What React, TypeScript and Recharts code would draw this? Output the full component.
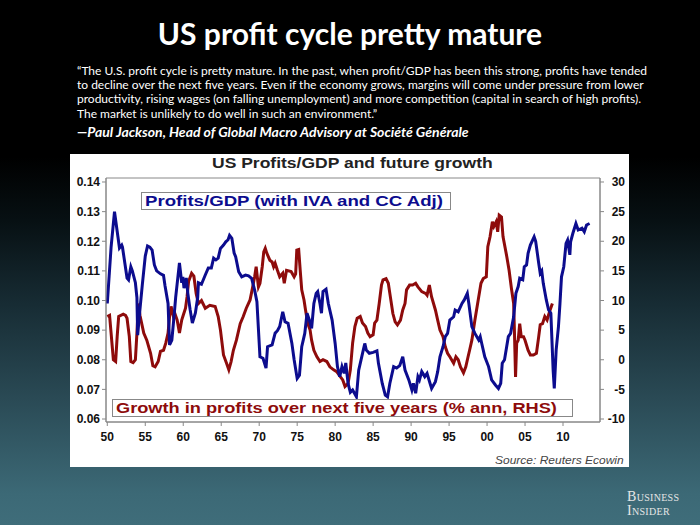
import React from 'react';
import { LineChart, Line, XAxis, YAxis, ReferenceArea } from 'recharts';

const profitYears = [
  1950.0, 1950.5, 1950.95, 1951.4, 1951.6, 1951.9, 1952.0, 1952.6, 1952.8, 1953.1, 1953.3, 1953.7, 1953.9, 1954.0,
  1954.3, 1954.6, 1955.0, 1955.3, 1955.6, 1955.9, 1956.2, 1956.5, 1957.0, 1957.4, 1957.6, 1958.0, 1958.2, 1958.5,
  1958.8, 1959.0, 1959.5, 1959.8, 1959.95, 1960.1, 1960.4, 1960.6, 1960.9, 1961.2, 1961.6, 1961.9, 1962.0, 1962.4,
  1962.9, 1963.3, 1963.7, 1964.0, 1964.3, 1964.6, 1964.9, 1965.3, 1965.6, 1965.9, 1966.1, 1966.4, 1966.7, 1966.9,
  1967.3, 1967.7, 1968.2, 1968.6, 1969.0, 1969.4, 1969.7, 1970.1, 1970.5, 1970.9, 1971.1, 1971.7, 1972.1, 1972.4,
  1972.7, 1973.1, 1973.4, 1973.8, 1974.3, 1974.6, 1975.0, 1975.3, 1975.6, 1976.0, 1976.3, 1976.6, 1976.9, 1977.2,
  1977.5, 1977.7, 1978.0, 1978.2, 1978.4, 1978.8, 1979.1, 1979.6, 1980.0, 1980.3, 1980.6, 1980.9, 1981.2, 1981.4,
  1981.7, 1982.0, 1982.3, 1982.8, 1983.1, 1983.5, 1983.9, 1984.1, 1984.5, 1985.0, 1985.5, 1985.7, 1986.2, 1986.6,
  1986.9, 1987.2, 1987.7, 1988.1, 1988.5, 1988.9, 1989.2, 1989.7, 1990.1, 1990.3, 1990.6, 1990.9, 1991.1, 1991.4,
  1991.8, 1992.1, 1992.5, 1992.7, 1993.2, 1993.5, 1993.8, 1994.2, 1994.5, 1994.8, 1995.1, 1995.6, 1995.8, 1996.2,
  1996.7, 1997.0, 1997.4, 1997.6, 1998.0, 1998.4, 1998.9, 1999.1, 1999.3, 1999.7, 2000.2, 2000.6, 2001.1, 2001.5,
  2001.8, 2002.0, 2002.3, 2002.8, 2003.1, 2003.5, 2003.8, 2004.1, 2004.3, 2004.7, 2004.9, 2005.2, 2005.4, 2005.7,
  2006.2, 2006.4, 2006.8, 2007.0, 2007.2, 2007.4, 2007.8, 2008.1, 2008.4, 2008.7, 2008.85, 2009.1, 2009.4, 2009.6,
  2009.8, 2010.1, 2010.4, 2010.6, 2010.9, 2011.0, 2011.3, 2011.7, 2012.0, 2012.5, 2012.8, 2013.1, 2013.5,
];
const profitValues = [
  0.099, 0.118, 0.13, 0.1215, 0.1177, 0.1187, 0.118, 0.1076, 0.107, 0.1114, 0.11, 0.106, 0.101, 0.0883,
  0.097, 0.105, 0.115, 0.1184, 0.118, 0.117, 0.112, 0.11, 0.109, 0.1085, 0.105, 0.099, 0.085, 0.0866,
  0.095, 0.101, 0.1127, 0.106, 0.108, 0.1042, 0.1076, 0.1025, 0.097, 0.0924, 0.0958, 0.101, 0.106, 0.1055,
  0.1086, 0.111, 0.111, 0.1143, 0.1137, 0.1143, 0.1176, 0.1187, 0.1198, 0.1205, 0.122, 0.121, 0.116, 0.1148,
  0.1097, 0.108, 0.1086, 0.1083, 0.1075, 0.1035, 0.0996, 0.081, 0.0805, 0.0772, 0.0844, 0.085, 0.089, 0.0898,
  0.0912, 0.0962, 0.0928, 0.0923, 0.0856, 0.08, 0.0737, 0.0748, 0.0844, 0.0889, 0.0957, 0.0934, 0.0906, 0.099,
  0.1024, 0.103, 0.099, 0.0957, 0.103, 0.1038, 0.099, 0.0934, 0.0855, 0.0777, 0.0743, 0.0777, 0.0754, 0.0789,
  0.072, 0.069, 0.0698, 0.0675, 0.0765, 0.081, 0.0855, 0.0833, 0.0822, 0.0825, 0.083, 0.0788, 0.072, 0.0681,
  0.0675, 0.072, 0.0777, 0.0772, 0.078, 0.081, 0.0765, 0.0732, 0.0698, 0.072, 0.0687, 0.0743, 0.0732, 0.076,
  0.0743, 0.0754, 0.072, 0.0703, 0.0726, 0.076, 0.081, 0.0844, 0.0878, 0.0889, 0.0934, 0.0945, 0.0968, 0.0962,
  0.099, 0.1002, 0.1024, 0.099, 0.0912, 0.0889, 0.0867, 0.0878, 0.0855, 0.081, 0.0777, 0.0732, 0.0715, 0.0703,
  0.072, 0.0788, 0.08, 0.0878, 0.0889, 0.0945, 0.1024, 0.1047, 0.1075, 0.107, 0.1114, 0.112, 0.1159, 0.1187,
  0.1215, 0.12, 0.1126, 0.1092, 0.11, 0.1058, 0.1002, 0.0968, 0.0957, 0.0765, 0.0703, 0.0833, 0.0912, 0.099,
  0.108, 0.1114, 0.1193, 0.1204, 0.1154, 0.1198, 0.1227, 0.126, 0.1238, 0.1244, 0.1232, 0.1255, 0.126,
];

const growthYears = [
  1950.0, 1950.3, 1950.8, 1951.1, 1951.3, 1951.5, 1952.1, 1952.4, 1952.6, 1952.9, 1953.1, 1953.4, 1953.7, 1953.9,
  1954.1, 1954.3, 1954.8, 1955.2, 1955.7, 1956.0, 1956.3, 1956.7, 1957.0, 1957.4, 1957.7, 1958.0, 1958.2, 1958.4,
  1958.7, 1958.9, 1959.2, 1959.5, 1959.8, 1960.0, 1960.3, 1960.5, 1960.7, 1961.1, 1961.4, 1961.7, 1962.0, 1962.4,
  1962.9, 1963.5, 1964.2, 1964.6, 1964.9, 1965.3, 1965.7, 1966.0, 1966.3, 1966.6, 1967.0, 1967.5, 1967.9, 1968.3,
  1968.8, 1969.1, 1969.4, 1969.6, 1969.9, 1970.1, 1970.4, 1970.6, 1970.8, 1971.0, 1971.4, 1971.7, 1971.9, 1972.1,
  1972.4, 1972.7, 1973.1, 1973.3, 1973.6, 1974.2, 1974.6, 1974.8, 1974.95, 1975.2, 1975.4, 1975.6, 1975.9, 1976.1,
  1976.4, 1976.7, 1976.9, 1977.2, 1977.6, 1978.0, 1978.4, 1978.9, 1979.3, 1979.8, 1980.2, 1980.7, 1981.0, 1981.3,
  1981.7, 1982.0, 1982.3, 1982.6, 1982.9, 1983.3, 1983.6, 1984.0, 1984.3, 1984.6, 1985.0, 1985.2, 1985.5, 1985.8,
  1986.1, 1986.3, 1986.7, 1987.0, 1987.2, 1987.6, 1987.9, 1988.2, 1988.6, 1988.9, 1989.2, 1989.4, 1989.8, 1990.2,
  1990.6, 1990.9, 1991.4, 1991.9, 1992.1, 1992.4, 1992.7, 1993.2, 1993.5, 1993.8, 1994.2, 1994.5, 1994.8, 1995.1,
  1995.6, 1995.9, 1996.2, 1996.5, 1996.9, 1997.2, 1997.5, 1997.7, 1998.0, 1998.4, 1998.9, 1999.2, 1999.5, 1999.9,
  2000.1, 2000.4, 2000.7, 2000.9, 2001.2, 2001.4, 2001.6, 2001.9, 2002.1, 2002.6, 2002.9, 2003.2, 2003.5, 2003.6,
  2003.75, 2003.9, 2004.1, 2004.3, 2004.5, 2004.8, 2005.0, 2005.4, 2005.7, 2006.1, 2006.5, 2006.8, 2007.0, 2007.3,
  2007.6, 2007.9, 2008.3, 2008.6,
];
const growthValues = [
  7.3, 7.5, 0, -0.3, 3.9, 7.3, 7.7, 7.5, 7.0, 3.9, -0.3, -0.5, 0, 4.5,
  9.5, 7.5, 4.5, 3.3, 1.1, -1.0, -1.2, -0.3, 1.4, 1.6, 2.8, 4.5, 7.3, 9.0,
  7.3, 7.8, 6.7, 4.5, 6.7, 7.5, 8.7, 10.6, 13.2, 14.6, 14.1, 11.2, 9.5, 10.0,
  8.7, 9.2, 9.0, 7.3, 5.0, 0.8, -0.6, -1.7, -0.3, 1.6, 3.3, 6.1, 7.3, 8.7,
  10.1, 12.0, 14.0, 15.7, 12.3, 12.9, 15.7, 18.2, 18.8, 18.0, 16.8, 16.5, 15.7, 16.3,
  15.1, 14.0, 14.6, 12.9, 15.1, 14.9, 14.0, 14.5, 18.5, 18.6, 15.1, 11.8, 10.1, 8.4,
  6.1, 5.0, 3.3, 1.6, 0.5, -0.3, 0, -0.3, -1.2, -1.7, -2.0, -2.9, -3.4, -4.5,
  -4.0, -1.7, 2.8, 5.6, 7.0, 7.3, 6.2, 5.6, 4.5, 3.9, 4.2, 6.2, 6.7, 9.5,
  12.6, 13.5, 13.7, 12.9, 11.2, 7.8, 6.4, 5.9, 6.7, 8.4, 9.5, 11.8, 12.6, 12.6,
  12.9, 12.3, 11.5, 11.2, 10.9, 12.6, 10.6, 8.4, 6.7, 5.0, 3.9, 2.2, 1.1, 0.5,
  -0.6, 0.5, 0, -1.2, -2.2, -1.2, 0.5, 1.6, 3.3, 6.7, 10.6, 12.9, 13.7, 14.0,
  19.1, 20.8, 23.3, 22.5, 23.3, 21.6, 24.4, 24.1, 20.8, 17.4, 15.1, 12.1, 9.5, 5.0,
  -2.9, 2.8, 3.3, 6.1, 3.9, 3.9, 3.3, 1.6, 0.8, 0.8, 1.1, 3.9, 5.9, 6.1,
  7.3, 6.7, 8.4, 9.5,
];

const yearTicks = [1950, 1955, 1960, 1965, 1970, 1975, 1980, 1985, 1990, 1995, 2000, 2005, 2010];
const leftTicks = [0.06, 0.07, 0.08, 0.09, 0.1, 0.11, 0.12, 0.13, 0.14];
const rightTicks = [-10, -5, 0, 5, 10, 15, 20, 25, 30];

const chartTitle = 'US Profits/GDP and future growth';
const profitLabel = 'Profits/GDP (with IVA and CC Adj)';
const growthLabel = 'Growth in profits over next five years (% ann, RHS)';
const sourceLabel = 'Source: Reuters Ecowin';
const slideTitle = 'US profit cycle pretty mature';
const quoteLines = [
  '\u201CThe U.S. profit cycle is pretty mature. In the past, when profit/GDP has been this strong, profits have tended',
  'to decline over the next five years. Even if the economy grows, margins will come under pressure from lower',
  'productivity, rising wages (on falling unemployment) and more competition (capital in search of high profits).',
  'The market is unlikely to do well in such an environment.\u201D',
];
const attribution = '\u2014Paul Jackson, Head of Global Macro Advisory at Soci\u00E9t\u00E9 G\u00E9n\u00E9rale';
const logoLines = ['Business', 'Insider'];

const profitData = profitYears.map((year, i) => ({ year, profit: profitValues[i] }));
const growthData = growthYears.map((year, i) => ({ year, growth: growthValues[i] }));

const X_DOMAIN: [number, number] = [1949.83, 2014.87];
const L_DOMAIN: [number, number] = [0.05899, 0.14135];
const R_DOMAIN: [number, number] = [-10.506, 30.675];

const BLUE = '#0c0c8e';
const RED = '#8e0b0b';
const ARIAL = '"Liberation Sans", Arial, sans-serif';
const SLIDE_FONT = 'Lato, "Open Sans", sans-serif';

const tickStyle = { fill: '#111', fontSize: 12, fontWeight: 700, fontFamily: ARIAL };

const RightTick = (props: any) => {
  const { x, y, payload } = props;
  return (
    <text x={x + 19} y={y} dy="0.35em" textAnchor="end" {...tickStyle}>
      {payload.value}
    </text>
  );
};

const stretched = (sx: number): React.CSSProperties => ({
  display: 'inline-block',
  transform: `scaleX(${sx})`,
  transformOrigin: 'left center',
});

export default function App() {
  return (
    <div
      style={{
        position: 'absolute',
        left: 0,
        top: 0,
        width: 700,
        height: 525,
        overflow: 'hidden',
        background:
          'linear-gradient(180deg, #000 0%, #000 30%, #071013 42%, #172c34 58%, #2a4a55 76%, #3c6976 94%, #3f6d7a 100%)',
      }}
    >
      <div
        style={{
          position: 'absolute',
          left: 0,
          width: 700,
          top: 14,
          textAlign: 'center',
          color: '#fff',
          fontFamily: SLIDE_FONT,
          fontWeight: 700,
          fontSize: 30,
          lineHeight: '38px',
        }}
      >
        {slideTitle}
      </div>
      {quoteLines.map((line, i) => (
        <div
          key={i}
          style={{
            position: 'absolute',
            left: 77,
            top: 63 + i * 14.2,
            color: '#fff',
            fontFamily: SLIDE_FONT,
            fontSize: 12,
            lineHeight: '16px',
            whiteSpace: 'nowrap',
          }}
        >
          {line}
        </div>
      ))}
      <div
        style={{
          position: 'absolute',
          left: 77,
          top: 123,
          color: '#fff',
          fontFamily: SLIDE_FONT,
          fontSize: 14,
          fontStyle: 'italic',
          fontWeight: 700,
          lineHeight: '18px',
          whiteSpace: 'nowrap',
        }}
      >
        {attribution}
      </div>

      <div
        style={{
          position: 'absolute',
          left: 70,
          top: 154,
          width: 559,
          height: 313,
          background: '#fff',
        }}
      >
        <LineChart width={559} height={313} margin={{ top: 24, right: 4, bottom: 20, left: 6 }}>
          <XAxis
            dataKey="year"
            type="number"
            domain={X_DOMAIN}
            allowDataOverflow
            ticks={yearTicks}
            tickFormatter={(v: number) => String(v % 100).padStart(2, '0')}
            tick={tickStyle}
            tickSize={4}
            tickMargin={6}
            height={25}
            stroke="#888"
          />
          <YAxis
            yAxisId="left"
            orientation="left"
            type="number"
            domain={L_DOMAIN}
            allowDataOverflow
            ticks={leftTicks}
            tickFormatter={(v: number) => v.toFixed(2)}
            tick={tickStyle}
            tickSize={4}
            tickMargin={2}
            width={30}
            stroke="#888"
          />
          <YAxis
            yAxisId="right"
            orientation="right"
            type="number"
            domain={R_DOMAIN}
            allowDataOverflow
            ticks={rightTicks}
            tick={<RightTick />}
            tickSize={4}
            width={25}
            stroke="#888"
          />
          <ReferenceArea
            yAxisId="left"
            x1={X_DOMAIN[0]}
            x2={X_DOMAIN[1]}
            y1={L_DOMAIN[0]}
            y2={L_DOMAIN[1]}
            fill="none"
            stroke="#888"
            strokeWidth={1}
          />
          <Line
            yAxisId="right"
            data={growthData}
            dataKey="growth"
            type="linear"
            stroke={RED}
            strokeWidth={3}
            dot={false}
            activeDot={false}
            isAnimationActive={false}
          />
          <Line
            yAxisId="left"
            data={profitData}
            dataKey="profit"
            type="linear"
            stroke={BLUE}
            strokeWidth={3}
            dot={false}
            activeDot={false}
            isAnimationActive={false}
          />
        </LineChart>

        <div
          style={{
            position: 'absolute',
            left: 142,
            top: 1,
            fontFamily: ARIAL,
            fontWeight: 700,
            fontSize: 14,
            color: '#222',
            lineHeight: '17px',
            whiteSpace: 'nowrap',
          }}
        >
          <span style={stretched(1.25)}>{chartTitle}</span>
        </div>
        <div
          style={{
            position: 'absolute',
            left: 71,
            top: 38,
            width: 310,
            height: 18,
            border: '1px solid #888',
            background: '#fff',
            fontFamily: ARIAL,
            fontWeight: 700,
            fontSize: 14,
            color: BLUE,
            lineHeight: '16px',
            paddingLeft: 3,
            boxSizing: 'border-box',
            whiteSpace: 'nowrap',
          }}
        >
          <span style={stretched(1.33)}>{profitLabel}</span>
        </div>
        <div
          style={{
            position: 'absolute',
            left: 42,
            top: 245,
            width: 461,
            height: 18,
            border: '1px solid #888',
            background: '#fff',
            fontFamily: ARIAL,
            fontWeight: 700,
            fontSize: 14,
            color: RED,
            lineHeight: '16px',
            paddingLeft: 3,
            boxSizing: 'border-box',
            whiteSpace: 'nowrap',
          }}
        >
          <span style={stretched(1.3)}>{growthLabel}</span>
        </div>
        <div
          style={{
            position: 'absolute',
            left: 425,
            top: 300,
            fontFamily: ARIAL,
            fontStyle: 'italic',
            fontSize: 11,
            color: '#444',
            lineHeight: '13px',
            whiteSpace: 'nowrap',
          }}
        >
          <span style={stretched(1.09)}>{sourceLabel}</span>
        </div>
      </div>

      <div
        style={{
          position: 'absolute',
          left: 627,
          top: 490,
          color: '#e6e6e6',
          fontFamily: '"Liberation Serif", "DejaVu Serif", serif',
          fontVariant: 'small-caps',
          fontSize: 14,
          lineHeight: '14px',
          letterSpacing: 0.3,
        }}
      >
        {logoLines.map((t) => (
          <div key={t} style={{ height: 14 }}>
            {t}
          </div>
        ))}
      </div>
    </div>
  );
}
